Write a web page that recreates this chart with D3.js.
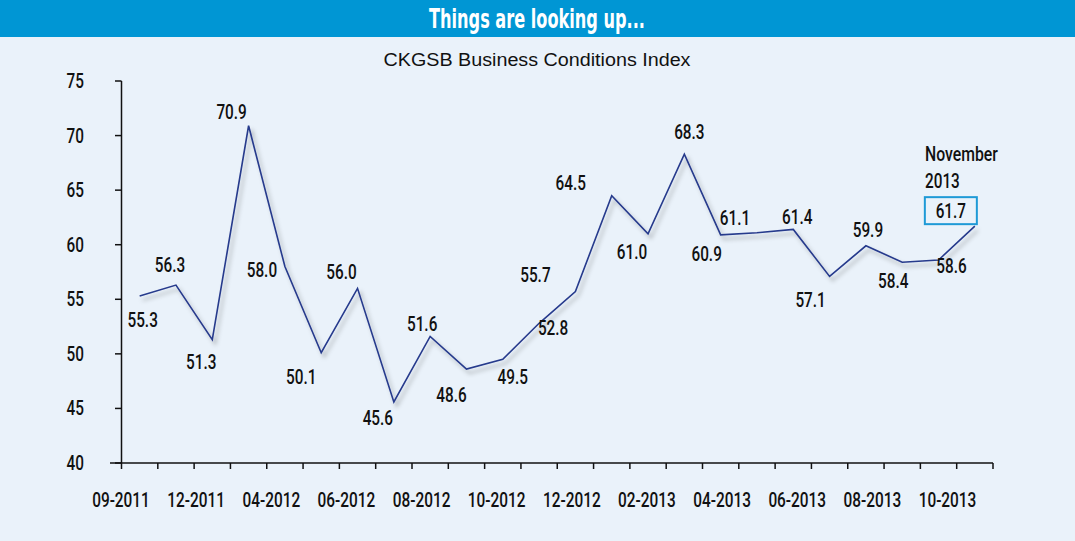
<!DOCTYPE html>
<html>
<head>
<meta charset="utf-8">
<script src="https://cdn.jsdelivr.net/npm/d3@7"></script>
<style>
  html, body { margin: 0; padding: 0; background: #eaf2fa; }
  svg { display: block; }
  .lbl { font-family: Roboto, "DejaVu Sans", sans-serif; font-weight: 500; fill: #111; }
</style>
</head>
<body>
<div id="chart"></div>
<script>
// values, one per period
const values = [55.3, 56.3, 51.3, 70.9, 58.0, 50.1, 56.0, 45.6, 51.6, 48.6, 49.5, 52.8,
                55.7, 64.5, 61.0, 68.3, 60.9, 61.1, 61.4, 57.1, 59.9, 58.4, 58.6, 61.7];
const tickLabels = ['09-2011', '12-2011', '04-2012', '06-2012', '08-2012', '10-2012',
                    '12-2012', '02-2013', '04-2013', '06-2013', '08-2013', '10-2013'];
const yTicks = [40, 45, 50, 55, 60, 65, 70, 75];

// label placement relative to each point (layout only)
const labelDx = [3, -6, -11, -17, -23, -20, -16, -16, -8, -15, 10, 14,
                 -40, -41, -16, 5, -14, -22, 4, -19, 2, -9, 13, -24];
const labelDy = [24, -20, 22, -14, 3, 24, -17, 16, -13, 26, 17, 4,
                 -17, -13, 18, -22, 19, -15, -13, 23, -16, 18, 6, -16];

// condensed face: squeeze each string to the width it has in the original
function condensedWidth(s) {
    let w = 0;
    for (const c of String(s)) {
        if (c === '.') w += 4.3;
        else if (c === '-') w += 5.5;
        else if (/[0-9]/.test(c)) w += 8.7;
        else if (c === 'N') w += 10.5;
        else if (c === 'm') w += 12.5;
        else w += 8.3;
    }
    return w;
}

function squeeze(sel) {
    sel.attr('textLength', function () { return condensedWidth(this.textContent); })
       .attr('lengthAdjust', 'spacingAndGlyphs');
}

function createChart() {
    const W = 1075, H = 541;
    const svg = d3.select('#chart').append('svg')
        .attr('width', W)
        .attr('height', H);

    svg.append('rect').attr('width', W).attr('height', H).attr('fill', '#eaf2fa');

    // Title bar
    svg.append('rect').attr('width', W).attr('height', 37).attr('fill', '#0096d4');
    svg.append('text')
        .attr('x', 537).attr('y', 28)
        .attr('text-anchor', 'middle')
        .attr('font-family', '"DejaVu Sans Condensed", "DejaVu Sans", sans-serif')
        .attr('font-weight', 'bold')
        .attr('font-size', 26)
        .attr('textLength', 216)
        .attr('lengthAdjust', 'spacingAndGlyphs')
        .attr('fill', '#fff')
        .text('Things are looking up...');

    svg.append('text')
        .attr('x', 537).attr('y', 66)
        .attr('text-anchor', 'middle')
        .attr('font-family', '"Liberation Sans", Arial, sans-serif')
        .attr('font-size', 18)
        .attr('textLength', 307)
        .attr('lengthAdjust', 'spacingAndGlyphs')
        .attr('fill', '#111')
        .text('CKGSB Business Conditions Index');

    const defs = svg.append('defs');
    const f = defs.append('filter').attr('id', 'shadow')
        .attr('x', '-5%').attr('y', '-10%').attr('width', '110%').attr('height', '130%');
    f.append('feDropShadow')
        .attr('dx', 3).attr('dy', 4).attr('stdDeviation', 2)
        .attr('flood-color', '#000').attr('flood-opacity', 0.3);

    const x = d3.scaleBand()
        .domain(d3.range(values.length))
        .range([121.5, 993]);

    const y = d3.scaleLinear()
        .domain([40, 75])
        .range([463, 81]);

    const xLab = d3.scalePoint()
        .domain(tickLabels)
        .range([121, 947.5]);

    const g = svg.append('g');

    // Y axis
    g.append('line')
        .attr('x1', 121.5).attr('x2', 121.5)
        .attr('y1', y(75)).attr('y2', y(40))
        .attr('stroke', '#111').attr('stroke-width', 1.5);
    g.selectAll('.ytick').data(yTicks).enter().append('line')
        .attr('class', 'ytick')
        .attr('x1', 115).attr('x2', 121.5)
        .attr('y1', d => y(d)).attr('y2', d => y(d))
        .attr('stroke', '#111').attr('stroke-width', 1.5);
    g.selectAll('.ylab').data(yTicks).enter().append('text')
        .attr('class', 'lbl')
        .attr('x', 84).attr('y', d => y(d))
        .attr('dy', '0.35em')
        .attr('text-anchor', 'end')
        .attr('font-size', 20)
        .text(d => d)
        .call(squeeze);

    // X axis
    g.append('line')
        .attr('x1', 110).attr('x2', x.range()[1])
        .attr('y1', y(40)).attr('y2', y(40))
        .attr('stroke', '#111').attr('stroke-width', 1.5);
    const edges = x.domain().map(d => x(d)).concat([x.range()[1]]);
    g.selectAll('.xtick').data(edges).enter().append('line')
        .attr('class', 'xtick')
        .attr('x1', d => d).attr('x2', d => d)
        .attr('y1', y(40)).attr('y2', y(40) + 6)
        .attr('stroke', '#111').attr('stroke-width', 1.5);
    g.selectAll('.xlab').data(tickLabels).enter().append('text')
        .attr('class', 'lbl')
        .attr('x', d => xLab(d)).attr('y', 507)
        .attr('text-anchor', 'middle')
        .attr('font-size', 21)
        .text(d => d)
        .call(squeeze);

    // Line
    const line = d3.line()
        .x((d, i) => x(i) + x.bandwidth() / 2)
        .y(d => y(d));

    g.append('path')
        .datum(values)
        .attr('d', line)
        .attr('fill', 'none')
        .attr('stroke', '#263a8c')
        .attr('stroke-width', 1.6)
        .attr('filter', 'url(#shadow)');

    // Value labels
    g.selectAll('.vlab').data(values).enter().append('text')
        .attr('class', 'lbl')
        .attr('x', (d, i) => x(i) + x.bandwidth() / 2 + labelDx[i])
        .attr('y', (d, i) => y(d) + labelDy[i])
        .attr('dy', '0.35em')
        .attr('text-anchor', 'middle')
        .attr('font-size', 21)
        .text(d => d.toFixed(1))
        .call(squeeze);

    // November 2013 callout
    const last = values.length - 1;
    const lx = x(last) + x.bandwidth() / 2 + labelDx[last];
    const ly = y(values[last]) + labelDy[last];
    g.append('rect')
        .attr('x', lx - 26).attr('y', ly - 13)
        .attr('width', 52).attr('height', 27)
        .attr('fill', 'none')
        .attr('stroke', '#1e9ad6')
        .attr('stroke-width', 2);
    g.append('text')
        .attr('class', 'lbl')
        .attr('x', 925).attr('y', 161)
        .attr('font-size', 21)
        .text('November')
        .call(squeeze);
    g.append('text')
        .attr('class', 'lbl')
        .attr('x', 925).attr('y', 188)
        .attr('font-size', 21)
        .text('2013')
        .call(squeeze);
}

createChart();
</script>
</body>
</html>
